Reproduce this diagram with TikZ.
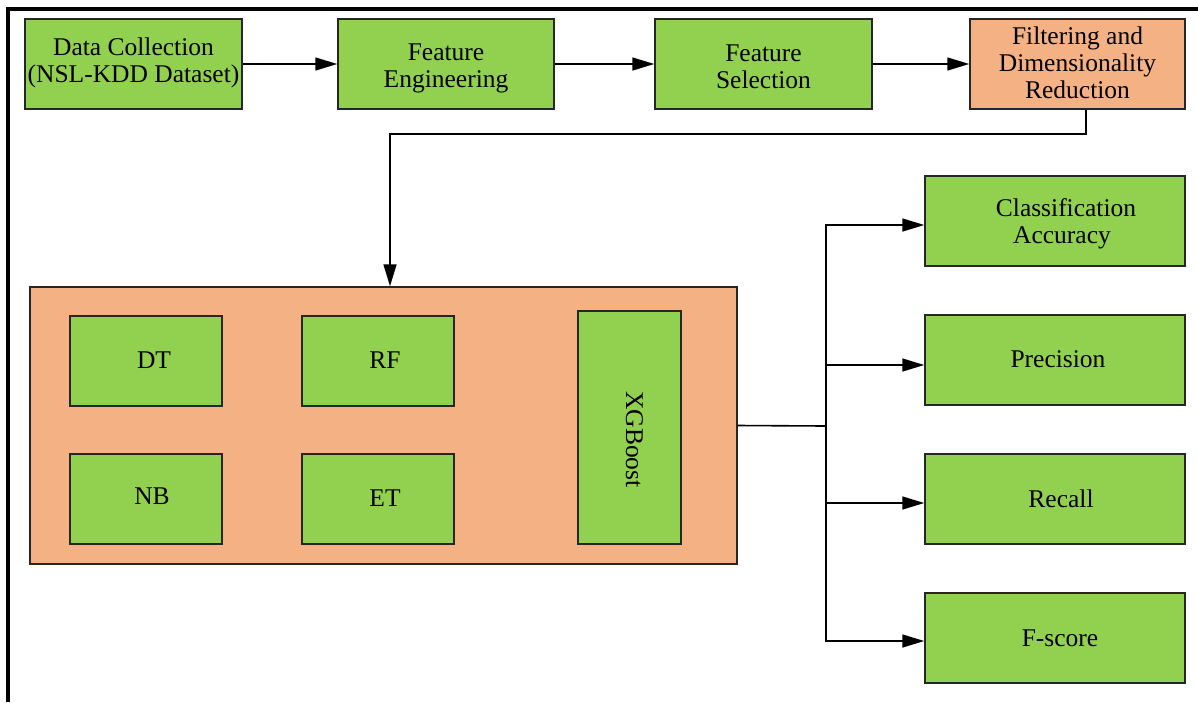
\documentclass[tikz,border=0pt]{standalone}
\usepackage{fontspec}
\setmainfont{Liberation Serif}
\usetikzlibrary{arrows.meta}
\definecolor{boxgreen}{HTML}{92D050}
\definecolor{boxorange}{HTML}{F4B183}
% centred multi-line text, moved right by #1 and down by #2
\newcommand{\boxtext}[3]{\hspace*{#1}\raisebox{0pt}[\dimexpr\height+#2*2\relax][\depth]{\begin{tabular}{@{}c@{}}#3\end{tabular}}}
\begin{document}
\begin{tikzpicture}[x=1pt, y=-1pt,
  box/.style={draw=black!85, line width=1.5pt, fill=boxgreen, minimum height=90pt,
    inner sep=2pt, font=\fontsize{25.5}{27}\selectfont},
  obox/.style={box, fill=boxorange},
  conn/.style={line width=1.6pt, draw=black},
  arr/.style={conn, -{Triangle[length=22pt, width=13pt]}}]
\useasboundingbox (0,0) rectangle (1198,702);

% outer frame (top and left edges only)
\draw[line width=3.5pt] (1198,9) -- (8,9) -- (8,702);

% pipeline row
\node[box, minimum width=217pt] (dc) at (133.5,64) {\boxtext{0pt}{0pt}{Data Collection\\(NSL-KDD Dataset)}};
\node[box, minimum width=216pt] (fe) at (446,64) {\boxtext{0pt}{5pt}{Feature\\Engineering}};
\node[box, minimum width=217pt] (fs) at (763.5,64) {\boxtext{0pt}{6pt}{Feature\\Selection}};
\node[obox, minimum width=215pt] (fr) at (1077.5,64) {\boxtext{0pt}{2pt}{Filtering and\\Dimensionality\\Reduction}};

% classifiers group
\node[obox, minimum width=707pt, minimum height=277pt] (big) at (383.5,425.5) {};
\node[box, minimum width=152pt] (dt) at (146,361) {\boxtext{16pt}{2pt}{DT}};
\node[box, minimum width=152pt] (rf) at (378,361) {\boxtext{14pt}{2pt}{RF}};
\node[box, minimum width=152pt] (nb) at (146,499) {\boxtext{12pt}{0pt}{NB}};
\node[box, minimum width=152pt] (et) at (378,499) {\boxtext{14pt}{2pt}{ET}};
\node[box, minimum width=103pt, minimum height=233pt] (xg) at (629.5,427.5) {};
\node[rotate=-90, font=\fontsize{25.5}{27}\selectfont] (xgl) at ([xshift=5pt,yshift=-12pt]xg.center) {XGBoost};

% evaluation metrics
\node[box, minimum width=260pt] (ca) at (1055,221) {\boxtext{22pt}{4pt}{Classification\\\hspace*{-8pt}Accuracy}};
\node[box, minimum width=260pt] (pr) at (1055,360) {\boxtext{6pt}{2pt}{Precision}};
\node[box, minimum width=260pt] (re) at (1055,499) {\boxtext{12pt}{3pt}{Recall}};
\node[box, minimum width=260pt] (fsc) at (1055,638) {\boxtext{10pt}{3pt}{F-score}};

% connectors
\draw[arr] (dc) -- (fe);
\draw[arr] (fe) -- (fs);
\draw[arr] (fs) -- (fr);
\draw[arr] ([xshift=8.5pt]fr.south) -- ++(0,24) -| ([xshift=6.5pt]big.north);

\coordinate (hub) at (826,426);
\draw[conn] (big.east) -- (hub);
\draw[arr] (hub) |- ([yshift=-4pt]ca.west);
\draw[arr] (hub) |- ([yshift=-5pt]pr.west);
\draw[arr] (hub) |- ([yshift=-4pt]re.west);
\draw[arr] (hub) |- ([yshift=-3pt]fsc.west);
\end{tikzpicture}
\end{document}
